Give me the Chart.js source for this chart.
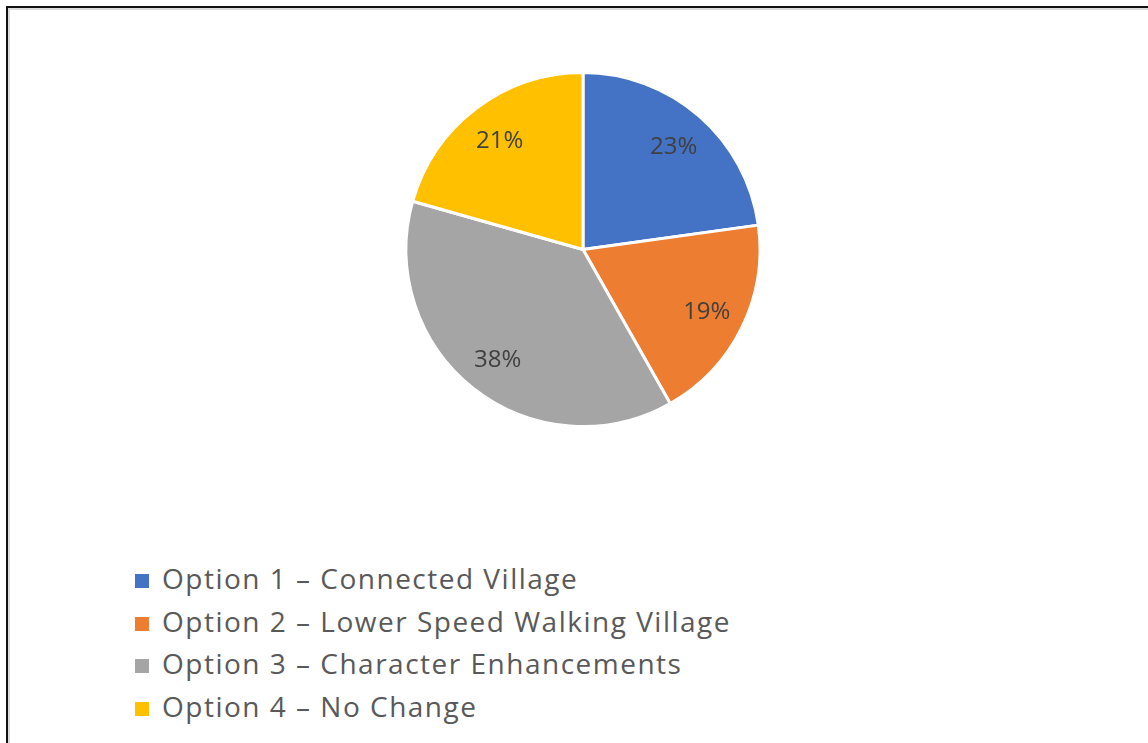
<!DOCTYPE html>
<html>
<head>
<meta charset="utf-8">
<script src="https://cdn.jsdelivr.net/npm/chart.js@4"></script>
<style>
    html, body { margin: 0; padding: 0; background: #fff; overflow: hidden; }
    #main { position: relative; width: 1148px; height: 743px; }
    #frame {
        position: absolute; left: 6px; top: 6px; width: 1200px; height: 800px;
        border: 2px solid #111; box-shadow: inset 2px 2px 0 #dcdcdc;
    }
    #chartBox { position: absolute; left: 0; top: 0; width: 1148px; height: 500px; }
    #legend { position: absolute; left: 135px; top: 557px; margin: 0; padding: 0; list-style: none; }
    #legend li {
        height: 42.6px; line-height: 42.6px; font-family: 'Open Sans', sans-serif;
        font-size: 28px; letter-spacing: 1.5px; color: #595959; white-space: nowrap;
    }
    #legend span.box { display: inline-block; width: 14px; height: 14px; margin-right: 13px; vertical-align: 1px; }
</style>
</head>
<body>
<div id="main">
    <div id="frame"></div>
    <div id="chartBox"><canvas id="pieChart"></canvas></div>
    <ul id="legend"></ul>
</div>
<script>
const labels = [
    'Option 1 \u2013 Connected Village',
    'Option 2 \u2013 Lower Speed Walking Village',
    'Option 3 \u2013 Character Enhancements',
    'Option 4 \u2013 No Change',
];
const values = [22.8, 19.0, 37.6, 20.6];
const colors = ['#4472c4', '#ed7d31', '#a5a5a5', '#ffc000'];

const pctLabels = {
    id: 'pctLabels',
    afterDatasetsDraw(chart) {
        const { ctx } = chart;
        const meta = chart.getDatasetMeta(0);
        const data = chart.data.datasets[0].data;
        const total = data.reduce((a, b) => a + b, 0);
        ctx.save();
        ctx.font = '24px "Open Sans", sans-serif';
        ctx.fillStyle = '#404040';
        ctx.textAlign = 'center';
        ctx.textBaseline = 'middle';
        meta.data.forEach((arc, i) => {
            const { startAngle, endAngle, outerRadius, x, y } = arc.getProps(['startAngle', 'endAngle', 'outerRadius', 'x', 'y'], true);
            const mid = (startAngle + endAngle) / 2;
            const r = outerRadius * 0.78;
            ctx.fillText(`${Math.round((data[i] / total) * 100)}%`, x + Math.cos(mid) * r, y + Math.sin(mid) * r + 2);
        });
        ctx.restore();
    },
};

window.addEventListener('load', () => {
    const chart = new Chart(document.getElementById('pieChart'), {
        type: 'pie',
        data: {
            labels,
            datasets: [{
                data: values,
                backgroundColor: colors,
                borderColor: '#ffffff',
                borderWidth: 3,
            }],
        },
        options: {
            responsive: true,
            maintainAspectRatio: false,
            animation: false,
            layout: { padding: { top: 71, bottom: 72, left: 18, right: 0 } },
            plugins: {
                legend: { display: false },
                tooltip: { enabled: false },
            },
        },
        plugins: [pctLabels],
    });

    const legend = document.getElementById('legend');
    chart.data.labels.forEach((label, i) => {
        const li = document.createElement('li');
        const box = document.createElement('span');
        box.className = 'box';
        box.style.background = chart.data.datasets[0].backgroundColor[i];
        li.appendChild(box);
        li.appendChild(document.createTextNode(label));
        legend.appendChild(li);
    });
});
</script>
</body>
</html>
